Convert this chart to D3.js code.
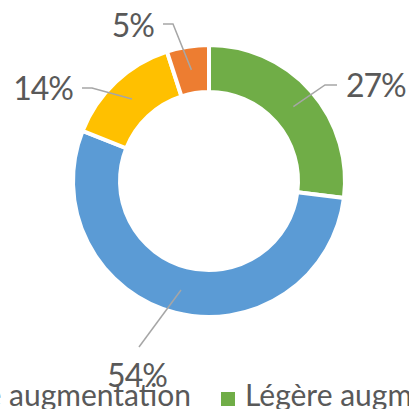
<!DOCTYPE html>
<html>
<head>
<meta charset="utf-8">
<script src="https://cdn.jsdelivr.net/npm/d3@7"></script>
<style>
  html, body { margin: 0; padding: 0; background: #fff; overflow: hidden; }
  svg { display: block; font-family: Lato, "Open Sans", sans-serif; }
</style>
</head>
<body>
<svg id="chart" width="409" height="409"></svg>
<script>
// slice data, in drawing order (clockwise from 12 o'clock)
const categories = ["Légère augmentation", "Forte augmentation", "Stable", "Diminution"];
const values = [27, 54, 14, 5];
const colors = ["#70AD47", "#5B9BD5", "#FFC000", "#ED7D31"];
const valueLabels = ["27%", "54%", "14%", "5%"];

// legend row (cut off by the frame, like the reference)
const legendItems = ["Forte augmentation", "Légère augmentation"];
const legendColors = ["#5B9BD5", "#70AD47"];

// where each data label sits: elbow of the leader, tail end x, text anchor
const labelLayout = [
  {elbow: [325, 85], tail: 337, tx: 346, ty: 97, anchor: "start"},
  {elbow: [139, 347], tail: 139, tx: 137, ty: 387, anchor: "middle"},
  {elbow: [92, 88], tail: 82, tx: 73, ty: 100, anchor: "end"},
  {elbow: [173, 24], tail: 163, tx: 154, ty: 37, anchor: "end"}
];

const width = 409, height = 409;
const cx = 209, cy = 181;
const outerR = 136, innerR = 89;

const svg = d3.select("#chart");
svg.append("rect").attr("width", width).attr("height", height).attr("fill", "#fff");

const pie = d3.pie().sort(null).value(d => d)(values);
const arc = d3.arc().innerRadius(innerR).outerRadius(outerR);

const g = svg.append("g").attr("transform", `translate(${cx},${cy})`);

g.selectAll("path.slice")
  .data(pie)
  .enter().append("path")
    .attr("class", "slice")
    .attr("d", arc)
    .attr("fill", (d, i) => colors[i])
    .attr("stroke", "#fff")
    .attr("stroke-width", 4)
    .attr("stroke-linejoin", "miter");

// leader lines start at the ring centroid of each slice
pie.forEach((d, i) => {
  let c = arc.centroid(d);
  let L = labelLayout[i];
  let pts = [[cx + c[0], cy + c[1]], L.elbow, [L.tail, L.elbow[1]]];
  svg.append("path")
    .attr("d", d3.line()(pts))
    .attr("fill", "none")
    .attr("stroke", "#A6A6A6")
    .attr("stroke-width", 1.5);
  svg.append("text")
    .attr("x", L.tx)
    .attr("y", L.ty)
    .attr("text-anchor", L.anchor)
    .attr("font-size", 32)
    .attr("letter-spacing", -1)
    .attr("fill", "#595959")
    .text(valueLabels[i]);
});

// legend
let legendX = 221, legendY = 406;
let leg = svg.append("g");
// second item: square then text
leg.append("rect")
  .attr("x", legendX).attr("y", legendY - 14)
  .attr("width", 14).attr("height", 14)
  .attr("fill", legendColors[1]);
leg.append("text")
  .attr("x", legendX + 24).attr("y", legendY)
  .attr("font-size", 30)
  .attr("fill", "#595959")
  .text(legendItems[1]);
// first item ends well before the second square
leg.append("text")
  .attr("x", 191).attr("y", legendY)
  .attr("text-anchor", "end")
  .attr("font-size", 30)
  .attr("fill", "#595959")
  .text(legendItems[0]);
leg.append("rect")
  .attr("x", -14).attr("y", legendY - 14)
  .attr("width", 14).attr("height", 14)
  .attr("fill", legendColors[0]);
</script>
</body>
</html>
